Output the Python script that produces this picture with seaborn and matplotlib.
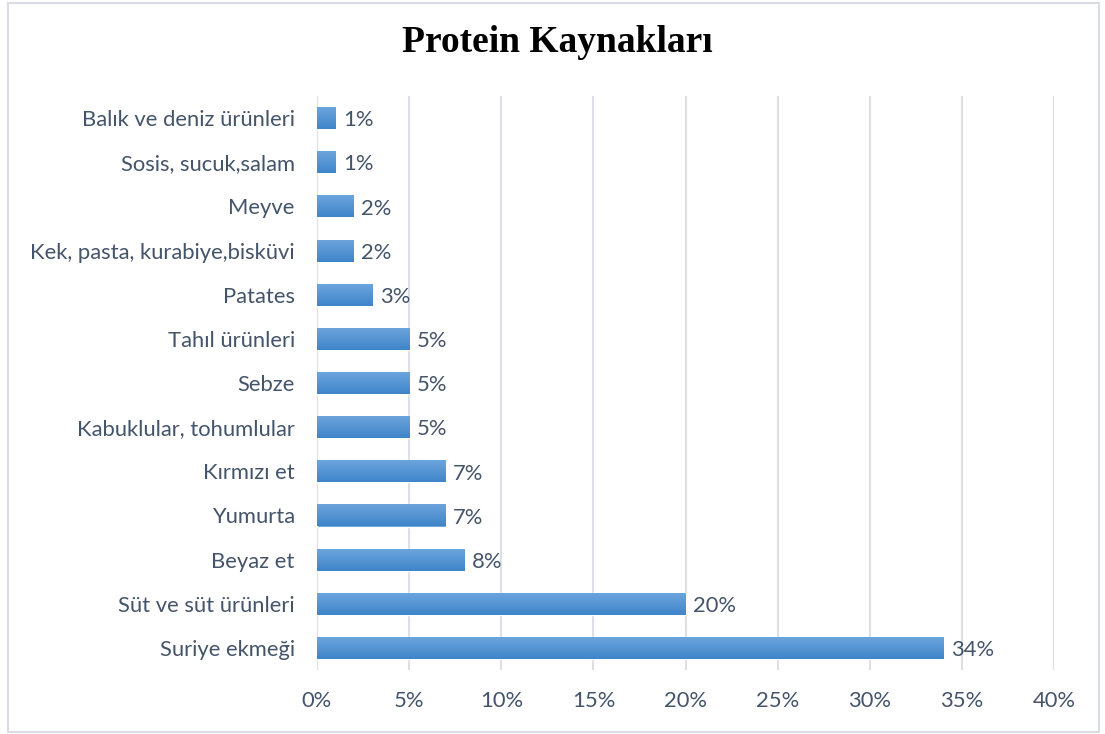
import matplotlib
matplotlib.use("Agg")
import matplotlib.pyplot as plt
import seaborn as sns
import pandas as pd
import numpy as np
from matplotlib.colors import LinearSegmentedColormap
from matplotlib.patches import Rectangle

categories = ["Balık ve deniz ürünleri", "Sosis, sucuk,salam", "Meyve",
              "Kek, pasta, kurabiye,bisküvi", "Patates", "Tahıl ürünleri",
              "Sebze", "Kabuklular, tohumlular", "Kırmızı et", "Yumurta",
              "Beyaz et", "Süt ve süt ürünleri", "Suriye ekmeği"]
values = [1, 1, 2, 2, 3, 5, 5, 5, 7, 7, 8, 20, 34]
xticks = [0, 5, 10, 15, 20, 25, 30, 35, 40]

df = pd.DataFrame({"kategori": categories, "oran": values})

sns.set_style("white")
plt.rcParams["font.family"] = ["Lato", "DejaVu Sans"]
txt = "#44546A"
fs = 15.8

fig = plt.figure(figsize=(11.05, 7.34), dpi=100)
ax = fig.add_axes([317/1105, 1 - 670/734, (1054-317)/1105, (670-96)/734])

sns.barplot(data=df, x="oran", y="kategori", orient="h", ax=ax,
            color="#4A8FD3", width=0.5, saturation=1, zorder=3)

# gradient fill over each bar
cmap = LinearSegmentedColormap.from_list("g", ["#6EA6DE", "#3F85C9"])
grad = np.linspace(0, 1, 64).reshape(-1, 1)
for p in ax.patches:
    x0, y0 = p.get_x(), p.get_y()
    w, h = p.get_width(), p.get_height()
    im = ax.imshow(grad, cmap=cmap, aspect="auto", zorder=4,
                   extent=[x0, x0 + w, y0 + h, y0], interpolation="bilinear")
    im.set_clip_path(Rectangle((x0, y0), w, h, transform=ax.transData))

for i, v in enumerate(values):
    ax.text(v + 0.4, i + 0.05, f"{v}%", va="center", ha="left", fontsize=fs,
            color=txt, zorder=5)

ax.set_xlim(0, 40)
ax.set_ylim(len(categories) - 0.5, -0.5)
ax.set_xticks(xticks)
ax.set_xticklabels([f"{t}%" for t in xticks])
ax.xaxis.grid(True, color="#DCE0E6", linewidth=1.5, zorder=0)
ax.set_axisbelow(True)
ax.set_xlabel("")
ax.set_ylabel("")
for s in ax.spines.values():
    s.set_visible(False)
ax.tick_params(axis="both", length=0, labelsize=fs, labelcolor=txt)
ax.tick_params(axis="x", pad=15)
ax.tick_params(axis="y", pad=16)

fig.text(557/1105, 1 - 43/734, "Protein Kaynakları", ha="center", va="center",
         fontsize=27, fontweight="bold", family="Liberation Serif", color="black")

fig.patches.append(Rectangle((8/1105, 2/734), 1091/1105, 729/734,
                             transform=fig.transFigure, fill=False,
                             edgecolor="#D9DDE3", linewidth=1.5))

fig.savefig("out.png", dpi=100)
